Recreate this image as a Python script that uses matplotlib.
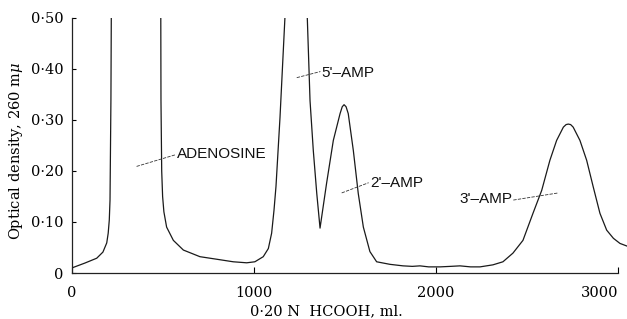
import matplotlib
matplotlib.use("Agg")
import matplotlib.pyplot as plt

# elution volume (ml) and optical density at 260 mu
# (off-scale peak tops are given a nominal value above the axis limit)
volume = [0, 71, 136, 170, 191, 199, 205, 209, 214, 216, 350, 488, 489, 493,
          498, 505, 520, 557, 612, 703, 795, 886, 960, 1005, 1051, 1079, 1097,
          1110, 1121, 1143, 1170, 1230, 1293, 1308, 1326, 1345, 1363, 1399,
          1436, 1473, 1485, 1495, 1506, 1518, 1546, 1573, 1601, 1637, 1674,
          1747, 1819, 1870, 1912, 1960, 2022, 2080, 2132, 2190, 2242, 2313,
          2368, 2423, 2478, 2533, 2581, 2626, 2663, 2700, 2715, 2727, 2740,
          2754, 2791, 2828, 2864, 2901, 2938, 2975, 3011, 3048]
density = [0.010, 0.0195, 0.029, 0.041, 0.059, 0.078, 0.104, 0.143, 0.34, 0.50,
           1.20, 0.50, 0.338, 0.200, 0.150, 0.120, 0.090, 0.064, 0.045, 0.032,
           0.027, 0.022, 0.020, 0.022, 0.032, 0.048, 0.078, 0.123, 0.170,
           0.305, 0.50, 0.80, 0.50, 0.338, 0.240, 0.156, 0.088, 0.176, 0.260,
           0.3125, 0.326, 0.330, 0.326, 0.3125, 0.240, 0.156, 0.090, 0.042,
           0.022, 0.017, 0.014, 0.013, 0.014, 0.012, 0.012, 0.013, 0.014, 0.012,
           0.012, 0.016, 0.022, 0.039, 0.064, 0.117, 0.162, 0.221, 0.260, 0.286,
           0.291, 0.292, 0.291, 0.286, 0.260, 0.221, 0.169, 0.117, 0.084, 0.068,
           0.058, 0.053]

x_ticks = [0, 1000, 2000, 3000]
x_ticklabels = ["0", "1000", "2000", "3000"]
y_ticks = [0, 0.1, 0.2, 0.3, 0.4, 0.5]
y_ticklabels = ["0", "0\u00b710", "0\u00b720", "0\u00b730", "0\u00b740", "0\u00b750"]

# peak labels: text, text anchor, leader line start/end
peak_names = ["ADENOSINE", "5'\u2013AMP", "2'\u2013AMP", "3'\u2013AMP"]
label_xy = [(578, 0.234), (1372, 0.393), (1637, 0.177), (2418, 0.145)]
leader_from = [(355, 0.209), (1235, 0.383), (1482, 0.157), (2425, 0.143)]
leader_to = [(570, 0.232), (1365, 0.395), (1630, 0.177), (2672, 0.157)]
label_align = ["left", "left", "left", "right"]

plt.rcParams["mathtext.fontset"] = "dejavuserif"
fig = plt.figure(figsize=(6.27, 3.19), dpi=100)
ax = fig.add_axes([0.1148, 0.1442, 0.8853, 0.7994])

ax.plot(volume, density, color="#1a1a1a", lw=0.9)

for name, (tx, ty), p0, p1, ha in zip(peak_names, label_xy, leader_from, leader_to, label_align):
    ax.plot([p0[0], p1[0]], [p0[1], p1[1]], color="#333333", lw=0.6,
            linestyle=(0, (4, 1.5)))
    ax.text(tx, ty, name, ha=ha, va="center", fontsize=11,
            family="Liberation Sans", color="#111111")

ax.set_xlim(0, 3050)
ax.set_ylim(0, 0.5)
ax.spines["top"].set_visible(False)
ax.spines["right"].set_visible(False)
ax.spines["bottom"].set_bounds(0, 3000)
for s in ("left", "bottom"):
    ax.spines[s].set_linewidth(0.9)
    ax.spines[s].set_color("#222222")

ax.set_xticks(x_ticks)
ax.set_xticklabels(x_ticklabels, family="DejaVu Serif", fontsize=10.5)
ax.get_xticklabels()[-1].set_horizontalalignment("right")
ax.set_yticks(y_ticks)
ax.set_yticklabels(y_ticklabels, family="DejaVu Serif", fontsize=10.5)
ax.tick_params(axis="x", direction="in", length=4, width=0.8, pad=9)
ax.tick_params(axis="y", direction="in", length=3, width=0.8, pad=6)

ax.set_xlabel("0\u00b720 N  HCOOH, ml.", family="DejaVu Serif", fontsize=10.5)
ax.xaxis.set_label_coords(0.458, -0.122)
ax.set_ylabel("Optical density, 260 m$\\mu$", family="DejaVu Serif", fontsize=10.5)
ax.yaxis.set_label_coords(-0.085, 0.478)

fig.savefig("out.png", dpi=100)
